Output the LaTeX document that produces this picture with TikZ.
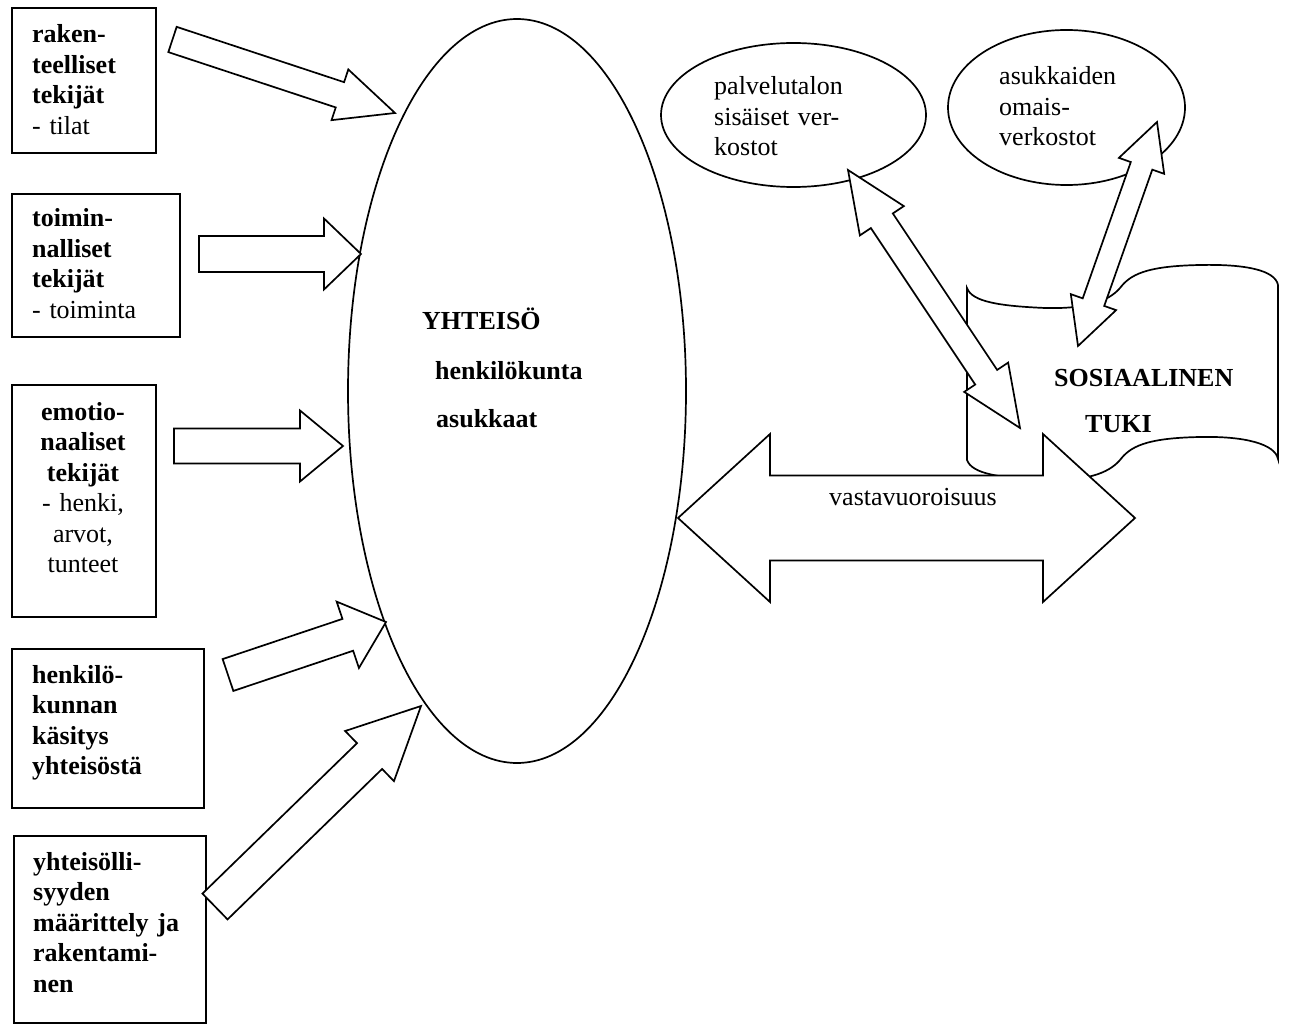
\documentclass[tikz,border=0pt]{standalone}
\usepackage{fontspec}
\setmainfont{Liberation Serif}
\usetikzlibrary{calc,shapes.geometric}
% single block arrow: #1 tail centre, #2 tip, #3 shaft half width, #4 head half width, #5 head length
\newcommand\blksgl[5]{%
  \coordinate (hb) at ($(#2)!#5!(#1)$);
  \draw[arrowbox] ($(#1)!#3!90:(#2)$) -- ($(hb)!#3!-90:(#1)$) -- ($(hb)!#4!-90:(#1)$) -- (#2)
    -- ($(hb)!#4!90:(#1)$) -- ($(hb)!#3!90:(#1)$) -- ($(#1)!#3!-90:(#2)$) -- cycle;}
% double block arrow: #1 tip A, #2 tip B, #3 shaft half width, #4 head half width, #5 head length
\newcommand\blkdbl[5]{%
  \coordinate (ha) at ($(#1)!#5!(#2)$);
  \coordinate (hb) at ($(#2)!#5!(#1)$);
  \draw[arrowbox] (#1) -- ($(ha)!#4!90:(#2)$) -- ($(ha)!#3!90:(#2)$) -- ($(hb)!#3!-90:(#1)$)
    -- ($(hb)!#4!-90:(#1)$) -- (#2) -- ($(hb)!#4!90:(#1)$) -- ($(hb)!#3!90:(#1)$)
    -- ($(ha)!#3!-90:(#2)$) -- ($(ha)!#4!-90:(#2)$) -- cycle;}
\begin{document}
\begin{tikzpicture}[x=1pt,y=-1pt,
  box/.style={draw, line width=1.8pt, inner sep=0pt, anchor=north west},
  oval/.style={draw, ellipse, line width=1.7pt, inner sep=0pt},
  arrowbox/.style={draw, fill=white, line width=1.7pt, line join=miter},
  txt/.style={anchor=base west, inner sep=0pt, font=\fontsize{26}{30.5}\selectfont, align=left, text width=220pt},
  ctxt/.style={anchor=base, inner sep=0pt, font=\fontsize{26}{30.5}\selectfont, align=center, text width=140pt},
  lbl/.style={anchor=base west, inner sep=0pt, font=\fontsize{26}{30.5}\selectfont\bfseries}]
\useasboundingbox (0,0) rectangle (1290,1024);
% boxes
\node[box, minimum width=144pt, minimum height=145pt] (b1) at (11,7) {};
\node[box, minimum width=168pt, minimum height=143pt] (b2) at (11,193) {};
\node[box, minimum width=144pt, minimum height=232pt] (b3) at (11,384) {};
\node[box, minimum width=192pt, minimum height=159pt] (b4) at (11,648) {};
\node[box, minimum width=192pt, minimum height=187pt] (b5) at (13,835) {};
\node[txt] (t1) at (32,43) {\textbf{raken-}\\\textbf{teelliset}\\\textbf{tekijät}\\- tilat};
\node[txt] (t2) at (32,227) {\textbf{toimin-}\\\textbf{nalliset}\\\textbf{tekijät}\\- toiminta};
\node[ctxt] (t3) at (83,420) {\textbf{emotio-}\\\textbf{naaliset}\\\textbf{tekijät}\\- henki,\\arvot,\\tunteet};
\node[txt] (t4) at (32,683) {\textbf{henkilö-}\\\textbf{kunnan}\\\textbf{käsitys}\\\textbf{yhteisöstä}};
\node[txt] (t5) at (33,870) {\textbf{yhteisölli-}\\\textbf{syyden}\\\textbf{määrittely ja}\\\textbf{rakentami-}\\\textbf{nen}};
% big ellipse
\node[oval, minimum width=338pt, minimum height=744pt] (yht) at (517,391) {};
% arrows into the community
\coordinate (a1s) at (172.5,39.5); \coordinate (a1e) at (395,113);
\coordinate (a2s) at (199,254);    \coordinate (a2e) at (361,254);
\coordinate (a3s) at (174,446);    \coordinate (a3e) at (343,446);
\coordinate (a4s) at (228,675);    \coordinate (a4e) at (386,622);
\coordinate (a5s) at (215,906.5);  \coordinate (a5e) at (421,706);
\blksgl{a1s}{a1e}{13.3pt}{26.7pt}{58pt}
\blksgl{a2s}{a2e}{18pt}{35.5pt}{37pt}
\blksgl{a3s}{a3e}{17.5pt}{35.5pt}{43pt}
\blksgl{a4s}{a4e}{16.8pt}{35pt}{40.3pt}
\blksgl{a5s}{a5e}{18pt}{35pt}{71.8pt}
% small ellipses
\node[oval, minimum width=265pt, minimum height=144pt] (pal) at (793.5,115) {};
\node[oval, minimum width=237pt, minimum height=155pt] (asu) at (1066.5,107.5) {};
% scroll
\draw[line width=1.7pt, fill=white] (967,288) .. controls (972,302) and (1000,306) .. (1045,308)
  .. controls (1085,309) and (1108,302) .. (1120,288)
  .. controls (1130,275) and (1145,266) .. (1200,265)
  .. controls (1245,264) and (1275,270) .. (1278,285)
  -- (1278,459)
  .. controls (1275,444) and (1245,436) .. (1200,437)
  .. controls (1145,438) and (1130,447) .. (1120,460)
  .. controls (1108,474) and (1085,481) .. (1045,480)
  .. controls (1000,478) and (972,474) .. (967,460) -- cycle;
% double arrows
\coordinate (dAa) at (848,170);  \coordinate (dAb) at (1020,428);
\coordinate (dBa) at (1157,122); \coordinate (dBb) at (1078,346);
\coordinate (dCa) at (678,518);  \coordinate (dCb) at (1135,518);
\blkdbl{dAa}{dAb}{13.2pt}{26.4pt}{61pt}
\blkdbl{dBa}{dBb}{11.4pt}{24pt}{46.5pt}
\blkdbl{dCa}{dCb}{42.5pt}{84pt}{92pt}
% texts
\node[anchor=base, inner sep=0pt, font=\fontsize{26}{30.5}\selectfont] (vast) at (913,505) {vastavuoroisuus};
\node[txt] (palt) at (714,95) {palvelutalon\\sisäiset ver-\\kostot};
\node[txt] (asut) at (999,85) {asukkaiden\\omais-\\verkostot};
\node[lbl] (sos) at (1054,386) {SOSIAALINEN};
\node[lbl] (tuki) at (1085,432) {TUKI};
\node[lbl] (y1) at (422,329) {YHTEISÖ};
\node[lbl] (y2) at (435,379) {henkilökunta};
\node[lbl] (y3) at (436,427) {asukkaat};
\end{tikzpicture}
\end{document}
